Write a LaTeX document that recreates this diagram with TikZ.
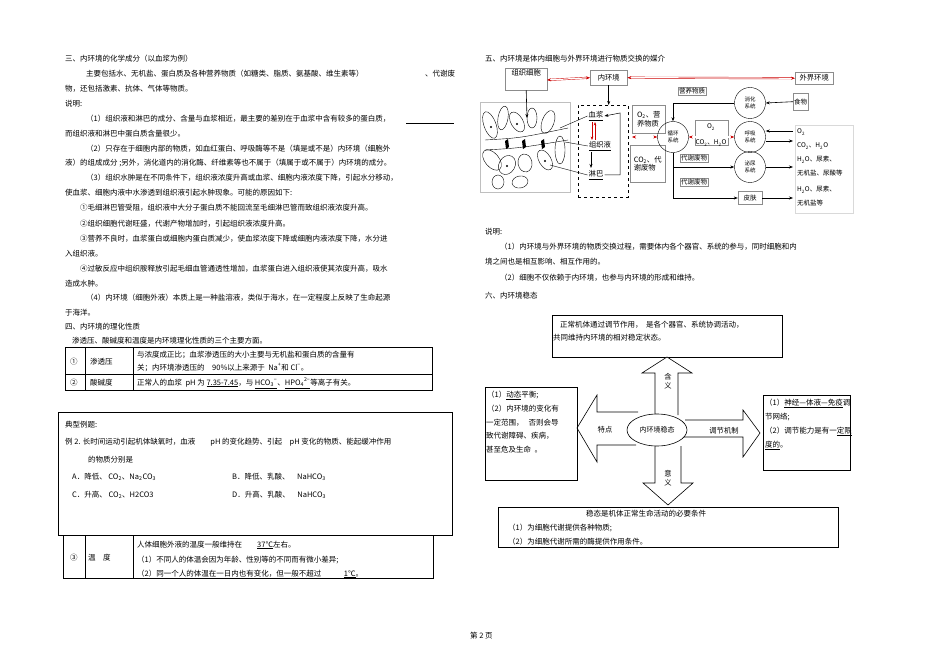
\documentclass[tikz,border=0pt]{standalone}
\usepackage{fontspec}
\setmainfont{Liberation Sans}
\newfontfamily\cjk{Noto Sans CJK SC}
\usetikzlibrary{arrows.meta,shapes.geometric}
\begin{document}
\begin{tikzpicture}[x=1pt,y=-1pt,
  tx/.style={anchor=base west,inner sep=0pt,font=\cjk\fontsize{7.5}{9}\selectfont},
  sm/.style={font=\cjk\fontsize{6.5}{8}\selectfont,inner sep=1pt},
  md/.style={font=\cjk\fontsize{7.3}{8.5}\selectfont,inner sep=1pt},
  bx/.style={draw=black!45,line width=0.4pt},
  ar/.style={-{Stealth[length=4pt]},line width=0.6pt},
  rar/.style={red!80!black,line width=0.4pt,{Stealth[length=4pt]}-{Stealth[length=4pt]},double,double distance=1.2pt},
  circ/.style={draw,circle,minimum size=31pt,inner sep=0pt,align=center,font=\cjk\fontsize{5.5}{6.5}\selectfont},
  bigar/.style={draw,line width=0.6pt,fill=white},
  tb/.style={draw,line width=0.6pt}]
\useasboundingbox (0,0) rectangle (950,671);
% ---------- left column ----------
\node[tx] (l1) at (65,62) {三、内环境的化学成分（以血浆为例）};
\node[tx] (l2) at (86,77) {主要包括水、无机盐、蛋白质及各种营养物质（如糖类、脂质、氨基酸、维生素等）};
\node[tx] (l2b) at (425,77) {、代谢废};
\node[tx] (l3) at (65,92) {物，还包括激素、抗体、气体等物质。};
\node[tx] (l4) at (65,107) {说明:};
\node[tx] (l5) at (86,122) {（1）组织液和淋巴的成分、含量与血浆相近，最主要的差别在于血浆中含有较多的蛋白质，};
\coordinate (u1) at (406,123); \coordinate (u2) at (454,123);
\draw[line width=0.4pt] (u1) -- (u2);
\node[tx] (l6) at (65,137) {而组织液和淋巴中蛋白质含量很少。};
\node[tx] (l7) at (86,152) {（2）只存在于细胞内部的物质，如血红蛋白、呼吸酶等不是（填是或不是）内环境（细胞外};
\node[tx] (l8) at (65,166) {液）的组成成分 ;另外，消化道内的消化酶、纤维素等也不属于（填属于或不属于）内环境的成分。};
\node[tx] (l9) at (86,181) {（3）组织水肿是在不同条件下，组织液浓度升高或血浆、细胞内液浓度下降，引起水分移动，};
\node[tx] (l10) at (65,196) {使血浆、细胞内液中水渗透到组织液引起水肿现象。可能的原因如下:};
\node[tx] (l11) at (80,211) {①毛细淋巴管受阻，组织液中大分子蛋白质不能回流至毛细淋巴管而致组织液浓度升高。};
\node[tx] (l12) at (80,226) {②组织细胞代谢旺盛，代谢产物增加时，引起组织液浓度升高。};
\node[tx] (l13) at (80,241) {③营养不良时，血浆蛋白或细胞内蛋白质减少，使血浆浓度下降或细胞内液浓度下降，水分进};
\node[tx] (l14) at (65,256) {入组织液。};
\node[tx] (l15) at (80,271) {④过敏反应中组织胺释放引起毛细血管通透性增加，血浆蛋白进入组织液使其浓度升高，吸水};
\node[tx] (l16) at (65,286) {造成水肿。};
\node[tx] (l17) at (86,300) {（4）内环境（细胞外液）本质上是一种盐溶液，类似于海水，在一定程度上反映了生命起源};
\node[tx] (l18) at (65,315) {于海洋。};
\node[tx] (sec4title) at (65,329) {四、内环境的理化性质};
\node[tx] (p4) at (72,343) {渗透压、酸碱度和温度是内环境理化性质的三个主要方面。};
% table 1
\coordinate (ta) at (65,347); \coordinate (tb) at (432,390);
\draw[tb] (ta) rectangle (tb);
\draw[tb] (65,374) -- (432,374);
\draw[tb] (85,347) -- (85,390);
\draw[tb] (133,347) -- (133,390);
\node[tx] (r1a) at (70,364) {①};
\node[tx] (r1b) at (90,364) {渗透压};
\node[tx] (r1c) at (137,357) {与浓度成正比；血浆渗透压的大小主要与无机盐和蛋白质的含量有};
\node[tx] (r1d) at (137,370) {关；内环境渗透压的\quad 90\%以上来源于\ \ Na\textsuperscript{+}和\ Cl\textsuperscript{−}。};
\node[tx] (r2a) at (70,385) {②};
\node[tx] (r2b) at (90,385) {酸碱度};
\node[tx] (r2c) at (137,385) {正常人的血浆\ \ pH 为 \underline{7.35-7.45}，与 \underline{HCO\textsubscript{3}\textsuperscript{−}}、\underline{HPO\textsubscript{4}\textsuperscript{2−}}等离子有关。};
% example box
\draw[line width=0.6pt] (58,412) rectangle (452,535);
\node[tx] (e1) at (65,427) {典型例题:};
\node[tx] (e2) at (65,444) {例 2. 长时间运动引起机体缺氧时，血液\qquad pH 的变化趋势、引起\quad pH 变化的物质、能起缓冲作用};
\node[tx] (e3) at (88,462) {的物质分别是};
\node[tx] (eA) at (72,479) {A．降低、 CO\textsubscript{2}、Na\textsubscript{2}CO\textsubscript{3}};
\node[tx] (eB) at (232,479) {B．降低、乳酸、\quad NaHCO\textsubscript{3}};
\node[tx] (eC) at (72,497) {C．升高、 CO\textsubscript{2}、H2CO3};
\node[tx] (eD) at (232,497) {D．升高、乳酸、\quad NaHCO\textsubscript{3}};
% table 3
\draw[tb] (63,535) rectangle (433,578);
\draw[tb] (85,535) -- (85,578);
\draw[tb] (133,535) -- (133,578);
\node[tx] (r3a) at (70,560) {③};
\node[tx] (r3b) at (88,560) {温\quad 度};
\node[tx] (r3c) at (137,547) {人体细胞外液的温度一般维持在\qquad \underline{37℃}左右。};
\node[tx] (r3d) at (137,562) {（1）不同人的体温会因为年龄、性别等的不同而有微小差异;};
\node[tx] (r3e) at (137,576) {（2）同一个人的体温在一日内也有变化，但一般不超过\qquad\quad \underline{1℃}。};
\node[tx] (pg) at (470,638) {第 2 页};
% ---------- right column ----------
\node[tx] (h5) at (485,62) {五、内环境是体内细胞与外界环境进行物质交换的媒介};
\node[bx,minimum width=42pt,minimum height=22pt,anchor=north west] (zx) at (505,68) {};
\node[md,anchor=north] (zxt) at (zx.north) {组织细胞};
\node[bx,md,minimum width=37pt,minimum height=15pt,anchor=north west] (nhj) at (590,70) {内环境};
\node[bx,md,minimum width=38pt,minimum height=12pt,anchor=north west] (wj) at (795,72) {外界环境};
\draw[rar] (547,80) -- (nhj.west);
\draw[rar] (nhj.east) -- (wj.west);
% cell picture
\node[draw=black!25,minimum width=90pt,minimum height=90pt,anchor=north west] (cells) at (480,102) {};
\begin{scope}[line width=0.4pt]
\foreach \cx/\cy/\rx/\ry/\a in {490/125/6/14/20,503/118/5/12/-10,517/122/6/11/30,532/118/5/10/0,548/122/6/12/-20,
  492/160/7/12/40,507/165/8/10/-30,525/163/7/9/10,545/160/6/11/30,560/150/5/14/0,498/182/6/7/0,520/182/8/6/10}
  \draw (\cx,\cy) ellipse[x radius=\rx,y radius=\ry,rotate=\a];
\fill (491,127) circle(1.2); \fill (517,124) circle(1.2); \fill (507,166) circle(1.2); \fill (545,161) circle(1.2);
\draw (485,140) .. controls (520,138) .. (568,128);
\draw (485,150) .. controls (520,148) .. (568,140);
\foreach \bx in {505,522,541} \fill (\bx,141) -- (\bx+3,139) -- (\bx+4,147) -- (\bx+1,149) -- cycle;
\end{scope}
\coordinate (cdown) at (527,118);
\draw[ar] (zx.south) -- (cdown);
% dashed inner box
\node[draw,dashed,minimum width=50pt,minimum height=92pt,anchor=north west] (db) at (578,105) {};
\draw[ar] (nhj.south) -- (db.north -| nhj.south);
\node[md] (xj) at (596,116) {\underline{血浆}};
\node[md] (zzy) at (600,146) {\underline{组织液}};
\node[md] (lb) at (596,175) {\underline{淋巴}};
\draw[red!80!black,line width=0.4pt,-{Stealth[length=3.5pt]}] (592,122) -- (592,140);
\draw[red!80!black,line width=0.4pt,-{Stealth[length=3.5pt]}] (595,140) -- (595,122);
\draw[ar] (591,152) -- (591,168);
\coordinate (lp1) at (620,175); \coordinate (lp2) at (620,113);
\draw[ar,line width=0.5pt] (lb.east) -- (lp1) -- (lp2) -- (xj.east);
\draw[line width=0.4pt] (560,128) -- (xj.west);
\draw[line width=0.4pt] (565,142) -- (zzy.west);
\draw[line width=0.4pt] (550,165) -- (lb.west);
% O2 / CO2 boxes
\node[bx,md,align=left,anchor=north west,minimum width=33pt,minimum height=28pt] (o2b) at (632,105) {O\textsubscript{2}、营\\养物质};
\node[bx,md,align=left,anchor=north west,minimum width=35pt,minimum height=37pt] (co2b) at (630,145) {CO\textsubscript{2}、代\\谢废物};
\node[circ] (xh) at (673,137) {循环\\系统};
\coordinate (rA) at (632,137);
\draw[rar] (rA) -- (xh.west);
\node[bx,sm,anchor=north west] (yy) at (678,87) {营养物质};
\node[circ] (xhs) at (750,103) {消化\\系统};
\node[bx,sm,anchor=north west,minimum height=17pt] (sw) at (793,93) {食物};
\draw[ar] (sw.west) -- (xhs.east);
\coordinate (xk) at (673,103);
\draw[ar] (xhs.west) -- (xk) -- (xh.north);
\node[circ] (hx) at (750,137) {呼吸\\系统};
\node[bx,minimum width=33pt,minimum height=25pt,anchor=north west] (o2c) at (695,120) {};
\node[sm] (o2l) at (711,127) {O\textsubscript{2}};
\node[sm] (co2l) at (711,143) {CO\textsubscript{2}、H\textsubscript{2}O};
\draw[rar] (xh.east) -- (hx.west);
\node[circ] (mn) at (750,167) {泌尿\\系统};
\node[bx,sm,minimum width=24pt,minimum height=13pt] (pf) at (750,198) {皮肤};
\node[draw=black!15,minimum width=58pt,minimum height=88pt,anchor=north west] (rbox) at (795,125) {};
\node[sm,anchor=base west] (q1) at (796,134) {O\textsubscript{2}};
\node[sm,anchor=base west] (q2) at (796,148) {CO\textsubscript{2}、H\textsubscript{2}O};
\node[sm,anchor=base west] (q3) at (796,162) {H\textsubscript{2}O、尿素、};
\node[sm,anchor=base west] (q4) at (796,176) {无机盐、尿酸等};
\node[sm,anchor=base west] (q5) at (796,192) {H\textsubscript{2}O、尿素、};
\node[sm,anchor=base west] (q6) at (796,206) {无机盐等};
\coordinate (q1w) at (793,131); \coordinate (q2w) at (793,141);
\draw[ar] (q1w) -- (hx.east |- q1w);
\draw[ar] (hx.east |- q2w) -- (q2w);
\coordinate (q3w) at (793,167); \coordinate (q5w) at (793,198);
\draw[ar] (mn.east) -- (q3w);
\draw[ar] (pf.east) -- (q5w);
\coordinate (br1) at (673,167); \coordinate (br2) at (673,198);
\draw[line width=0.6pt] (xh.south) -- (br2);
\draw[ar] (br1) -- (mn.west);
\draw[ar] (br2) -- (pf.west);
\node[bx,sm,anchor=north west] (dx1) at (680,154) {代谢废物};
\node[bx,sm,anchor=north west] (dx2) at (680,178) {代谢废物};
% explanation
\node[tx] (sm1) at (485,234) {说明:};
\node[tx] (sm2) at (500,249) {（1）内环境与外界环境的物质交换过程，需要体内各个器官、系统的参与，同时细胞和内};
\node[tx] (sm3) at (485,264) {境之间也是相互影响、相互作用的。};
\node[tx] (sm4) at (500,280) {（2）细胞不仅依赖于内环境，也参与内环境的形成和维持。};
\node[tx] (h6) at (485,298) {六、内环境稳态};
% steady-state diagram
\node[draw,line width=0.6pt,minimum width=230pt,minimum height=42pt,anchor=north west] (topb) at (552,315) {};
\node[tx] (tt1) at (560,327) {正常机体通过调节作用，\ \ 是各个器官、系统协调活动，};
\node[tx] (tt2) at (553,340) {共同维持内环境的相对稳定状态。};
\draw[bigar] (655,415) -- (655,373) -- (642,373) -- (667,357) -- (692,373) -- (678,373) -- (678,415);
\draw[bigar] (638,412) -- (597,412) -- (597,395) -- (577,428) -- (597,462) -- (597,445) -- (636,445);
\draw[bigar] (685,420) -- (743,420) -- (743,410) -- (760,433) -- (743,457) -- (743,437) -- (684,437);
\draw[bigar] (655,446) -- (655,483) -- (643,483) -- (668,505) -- (693,483) -- (681,483) -- (681,446);
\node[draw,line width=0.6pt,ellipse,fill=white,minimum width=60pt,minimum height=32pt,font=\cjk\fontsize{7}{8}\selectfont] (el) at (657,430) {内环境稳态};
\node[md,align=center] (hy) at (668,381) {含\\义};
\node[md,align=center] (yy2) at (668,478) {意\\义};
\node[md] (td) at (605,430) {特点};
\node[md] (tj) at (724,431) {调节机制};
\node[draw,line width=0.6pt,minimum width=92pt,minimum height=93pt,anchor=north west] (lbx) at (485,387) {};
\node[tx] (lb1) at (487,397) {（1）\underline{动态}平衡;};
\node[tx] (lb2) at (487,411) {（2）内环境的变化有};
\node[tx] (lb3) at (486,425) {一定范围，\ \ \ 否则会导};
\node[tx] (lb4) at (486,438) {致代谢障碍、疾病，};
\node[tx] (lb5) at (486,452) {甚至危及生命\ \ 。};
\node[draw,line width=0.6pt,minimum width=87pt,minimum height=75pt,anchor=north west] (rbx) at (763,395) {};
\node[tx] (rb1) at (765,405) {（1）\underline{神经—体液—免疫}调};
\node[tx] (rb2) at (765,419) {节网络;};
\node[tx] (rb3) at (765,433) {（2）调节能力是有一\underline{定限}};
\node[tx] (rb4) at (765,447) {\underline{度的}。};
\node[draw,line width=0.6pt,minimum width=340pt,minimum height=40pt,anchor=north west] (bbx) at (498,507) {};
\node[tx] (bb1) at (586,516) {稳态是机体正常生命活动的必要条件};
\node[tx] (bb2) at (508,530) {（1）为细胞代谢提供各种物质;};
\node[tx] (bb3) at (508,544) {（2）为细胞代谢所需的酶提供作用条件。};
\end{tikzpicture}
\end{document}
